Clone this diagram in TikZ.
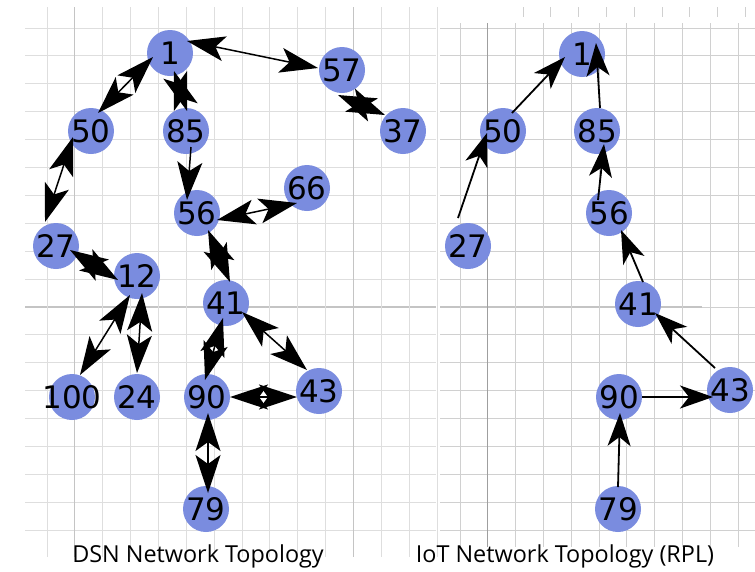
\documentclass[tikz,border=0pt]{standalone}
\usepackage{fontspec}
\setmainfont{Open Sans}
\newfontfamily\nodefontfam{DejaVu Sans}
\usetikzlibrary{arrows.meta}
\definecolor{nodeblue}{RGB}{122,140,223}
\definecolor{gridlight}{RGB}{222,222,222}
\definecolor{griddark}{RGB}{196,196,196}
\definecolor{gridmid}{RGB}{208,208,208}
\tikzset{
  nd/.style={circle, fill=nodeblue, minimum size=46pt, inner sep=0pt, font=\nodefontfam\fontsize{31}{31}\selectfont},
  tipA/.tip={Stealth[length=38pt,width=25pt,inset=9pt]},
  tipB/.tip={Stealth[length=33pt,width=23pt,inset=9pt]},
  bi/.style={line width=1.5pt, tipA-tipA},
  uni/.style={line width=1.5pt, -tipA},
  rpl/.style={line width=1.8pt, -tipB},
  glight/.style={draw=gridlight, line width=1pt},
  gdark/.style={draw=griddark, line width=1.2pt},
  gmid/.style={draw=gridmid, line width=1pt},
  ttl/.style={font=\fontsize{23.4}{25}\selectfont, inner sep=0pt}
}
\newcommand{\lbl}[1]{\makebox[0pt][c]{#1}}
\begin{document}
\begin{tikzpicture}[x=1pt,y=-1pt]
\useasboundingbox (0,0) rectangle (755,571);
\fill[white] (0,0) rectangle (755,571);
% ---- grid, left panel ----
\foreach \j in {0,...,18} {
  \pgfmathsetmacro{\yy}{28+27.9*\j}
  \ifnum\j=10
    \draw[gdark] (25,\yy) -- (436,\yy);
    \draw[gdark] (440,\yy) -- (702,\yy);
    \draw[gmid] (702,\yy) -- (755,\yy);
  \else
    \draw[glight] (25,\yy) -- (436,\yy);
    \draw[gmid] (440,\yy) -- (755,\yy);
  \fi
}
\foreach \k in {0,...,14} {
  \pgfmathsetmacro{\xx}{47+27.86*\k}
  \ifnum\k=1
    \draw[gdark] (\xx,7) -- (\xx,557);
  \else\ifnum\k=11
    \draw[gdark] (\xx,7) -- (\xx,557);
  \else
    \draw[glight] (\xx,7) -- (\xx,557);
  \fi\fi
}
% ---- grid, right panel ----
\foreach \k in {0,...,10} {
  \pgfmathsetmacro{\xx}{460+27.8*\k}
  \ifnum\k=1
    \draw[draw=gray!75, line width=1pt] (\xx,23) -- (\xx,547);
  \else
    \draw[gmid] (\xx,23) -- (\xx,547);
  \fi
}
\foreach \k in {0,...,8} {
  \pgfmathsetmacro{\xx}{523+27.8*\k}
  \draw[gmid] (\xx,7) -- (\xx,17);
}
% ---- DSN nodes ----
\node[nd] (d1) at (170,53) {\lbl{1}};
\node[nd] (d57) at (342,70) {\lbl{57}};
\node[nd] (d50) at (91,131) {\lbl{50}};
\node[nd] (d85) at (186,131) {\lbl{85}};
\node[nd] (d37) at (403,131) {\lbl{37}};
\node[nd] (d66) at (307,188) {\lbl{66}};
\node[nd] (d56) at (197,213) {\lbl{56}};
\node[nd] (d27) at (56,246) {\lbl{27}};
\node[nd] (d12) at (137,276) {\lbl{12}};
\node[nd] (d41) at (226,303) {\lbl{41}};
\node[nd] (d100) at (72,397) {\lbl{100}};
\node[nd] (d24) at (137,397) {\lbl{24}};
\node[nd] (d90) at (207,397) {\lbl{90}};
\node[nd] (d43) at (319,391) {\lbl{43}};
\node[nd] (d79) at (206,509) {\lbl{79}};
% ---- DSN edges ----
\draw[bi] ([shift={(17,-12)}]d1.center) -- ([shift={(-24,-2)}]d57.center);
\draw[bi] ([shift={(-17,4)}]d1.center) -- ([shift={(7,-18)}]d50.center);
\draw[bi] ([shift={(4,18)}]d1.center) -- ([shift={(1,-20)}]d85.center);
\draw[bi] ([shift={(-4,25)}]d57.center) -- ([shift={(-18,-16)}]d37.center);
\draw[bi] ([shift={(-18,6)}]d50.center) -- ([shift={(-11,-24)}]d27.center);
\draw[uni] ([shift={(5,16)}]d85.center) -- ([shift={(-10,-13)}]d56.center);
\draw[bi] ([shift={(20,7)}]d56.center) -- ([shift={(-10,15)}]d66.center);
\draw[bi] ([shift={(11,17)}]d56.center) -- ([shift={(4,-21)}]d41.center);
\draw[bi] ([shift={(14,4)}]d27.center) -- ([shift={(-19,4)}]d12.center);
\draw[bi] ([shift={(-7,19)}]d12.center) -- ([shift={(8,-22)}]d100.center);
\draw[bi] ([shift={(5,17)}]d12.center) -- ([shift={(0,-24)}]d24.center);
\draw[bi] ([shift={(-3,15)}]d41.center) -- ([shift={(-2,-17)}]d90.center);
\draw[bi] ([shift={(16,9)}]d41.center) -- ([shift={(-12,-21)}]d43.center);
\draw[bi] ([shift={(23,0)}]d90.center) -- ([shift={(-22,6)}]d43.center);
\draw[bi] ([shift={(1,16)}]d90.center) -- ([shift={(2,-16)}]d79.center);
% ---- RPL nodes ----
\node[nd] (r1) at (582,54) {\lbl{1}};
\node[nd] (r50) at (503,131) {\lbl{50}};
\node[nd] (r85) at (597,131) {\lbl{85}};
\node[nd] (r56) at (609,213) {\lbl{56}};
\node[nd] (r27) at (468,246) {\lbl{27}};
\node[nd] (r41) at (638,304) {\lbl{41}};
\node[nd] (r90) at (619,397) {\lbl{90}};
\node[nd] (r43) at (730,390) {\lbl{43}};
\node[nd] (r79) at (618,509) {\lbl{79}};
% ---- RPL edges ----
\draw[rpl] ([shift={(9,-18)}]r50.center) -- ([shift={(-17,3)}]r1.center);
\draw[rpl] ([shift={(-10,-28)}]r27.center) -- ([shift={(-16,2)}]r50.center);
\draw[rpl] ([shift={(3,-23)}]r85.center) -- ([shift={(14,-11)}]r1.center);
\draw[rpl] ([shift={(-11,-13)}]r56.center) -- ([shift={(7,13)}]r85.center);
\draw[rpl] ([shift={(5,-22)}]r41.center) -- ([shift={(12,17)}]r56.center);
\draw[rpl] ([shift={(-15,-22)}]r43.center) -- ([shift={(17,9)}]r41.center);
\draw[rpl] ([shift={(23,0)}]r90.center) -- ([shift={(-17,7)}]r43.center);
\draw[rpl] ([shift={(0,-22)}]r79.center) -- ([shift={(1,16)}]r90.center);
% ---- titles ----
\node[ttl] (t1) at (198,556) {DSN Network Topology};
\node[ttl] (t2) at (565,556) {IoT Network Topology (RPL)};
\end{tikzpicture}
\end{document}
